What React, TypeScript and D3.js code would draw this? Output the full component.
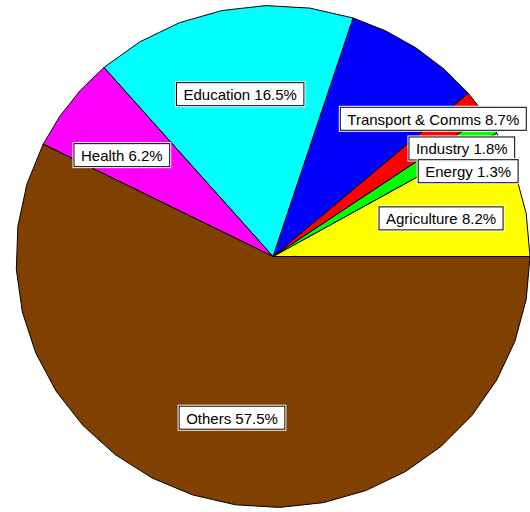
import { useMemo } from 'react';
import * as d3 from 'd3';

// slices counter-clockwise from 3 o'clock
const sectors = ['Agriculture', 'Energy', 'Industry', 'Transport & Comms', 'Education', 'Health', 'Others'];
const shares = [8.2, 1.3, 1.8, 8.7, 16.5, 6.2, 57.5];
const colors = ['#ffff00', '#00ff00', '#ff0000', '#0000ff', '#00ffff', '#ff00ff', '#804000'];

// label layout: fraction of radius + nudges for the crowded small slices
const LABEL_R = 0.66;
const nudges: Record<string, [number, number]> = {
  Agriculture: [4, 4],
  Energy: [51, 2],
  Industry: [54, -7.5],
  'Transport & Comms': [66, 0],
  Education: [1, 0],
  Health: [-17, 0],
  Others: [-2, 0],
};

const W = 530;
const H = 512;
const cx = 273;
const cy = 256.5;
const rx = 257;
const ry = 251;
const FONT = '15px "Liberation Sans", Arial, sans-serif';

const pt = (a: number, f = 1): [number, number] => [cx + rx * f * Math.cos(a), cy - ry * f * Math.sin(a)];

function textWidth(s: string) {
  const ctx = document.createElement('canvas').getContext('2d');
  if (!ctx) return s.length * 8;
  ctx.font = FONT;
  return ctx.measureText(s).width;
}

export default function App() {
  const arcs = useMemo(
    () =>
      d3
        .pie<number>()
        .sort(null)
        .value((d) => d)(shares),
    []
  );

  const line = d3.line();

  const slices = arcs.map((a, i) => {
    const span = a.endAngle - a.startAngle;
    const n = Math.max(1, Math.ceil(span / ((10 * Math.PI) / 180)));
    const pts: [number, number][] = [[cx, cy]];
    for (let k = 0; k <= n; k++) pts.push(pt(a.startAngle + (span * k) / n));
    return { d: line(pts) + 'Z', color: colors[i] };
  });

  const labels = arcs.map((a, i) => {
    const text = `${sectors[i]} ${shares[i].toFixed(1)}%`;
    const [x, y] = pt((a.startAngle + a.endAngle) / 2, LABEL_R);
    const [dx, dy] = nudges[sectors[i]];
    const w = textWidth(text) + 15;
    return { text, x: x + dx, y: y + dy, w, h: 24 };
  });

  return (
    <svg width={W} height={H} style={{ position: 'fixed', left: 0, top: 0, background: '#fff' }}>
      {slices.map((s, i) => (
        <path key={i} d={s.d} fill={s.color} stroke="#000" strokeWidth={1} strokeLinejoin="round" />
      ))}
      {labels
        .slice()
        .reverse()
        .map((l) => (
          <g key={l.text} transform={`translate(${l.x},${l.y})`}>
            <rect x={-l.w / 2 - 1} y={-l.h / 2 - 1} width={l.w + 2} height={l.h + 2} fill="#fff" />
            <rect x={-l.w / 2 + 0.5} y={-l.h / 2 + 0.5} width={l.w - 1} height={l.h - 1} fill="#fff" stroke="#000" />
            <text
              textAnchor="middle"
              dominantBaseline="central"
              y={0.5}
              style={{ font: FONT }}
              fill="#000"
            >
              {l.text}
            </text>
          </g>
        ))}
    </svg>
  );
}
